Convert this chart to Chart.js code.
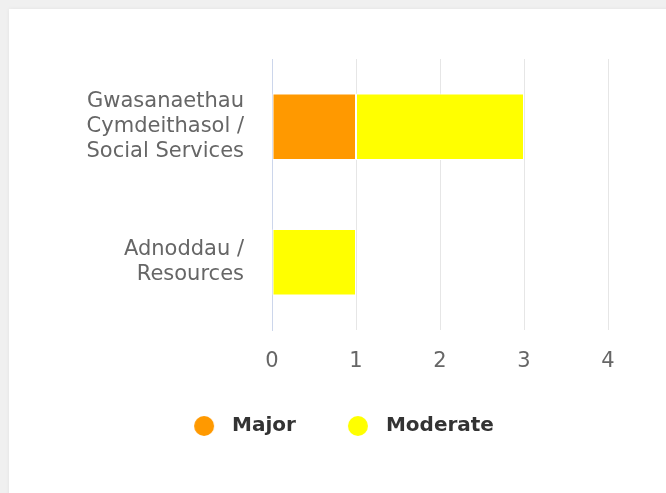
<!DOCTYPE html>
<html>
<head>
<meta charset="utf-8">
<script src="https://cdn.jsdelivr.net/npm/chart.js@4/dist/chart.umd.min.js"></script>
<style>
    html, body { margin: 0; padding: 0; }
    body { width: 666px; height: 493px; background: #f0f0f0; position: relative; overflow: hidden; }
    .card { position: absolute; left: 9px; top: 9px; right: -20px; bottom: -20px; background: #ffffff; box-shadow: 0 0 4px rgba(0,0,0,0.06); }
    #chart { position: absolute; left: 0; top: 0; }
</style>
</head>
<body>
<div class="card"></div>
<canvas id="chart" width="666" height="493"></canvas>
<script>
// Datos del gráfico
const categories = [
    ['Gwasanaethau', 'Cymdeithasol /', 'Social Services'],
    ['Adnoddau /', 'Resources']
];
const seriesNames = ['Major', 'Moderate'];
const seriesColors = ['#ff9900', '#ffff00'];
const majorValues = [1, 0];
const moderateValues = [2, 1];
const xTicks = [0, 1, 2, 3, 4];

// Marcador circular de la leyenda (círculo a la derecha de la caja)
function legendDot(color) {
    const c = document.createElement('canvas');
    c.width = 70;
    c.height = 20;
    const g = c.getContext('2d');
    g.fillStyle = color;
    g.beginPath();
    g.arc(52, 10, 10, 0, Math.PI * 2);
    g.fill();
    return c;
}

const labelFont = { family: 'DejaVu Sans', size: 21, lineHeight: 1.19 };

new Chart(document.getElementById('chart').getContext('2d'), {
    type: 'bar',
    data: {
        labels: categories,
        datasets: [
            {
                label: seriesNames[0],
                data: majorValues,
                backgroundColor: seriesColors[0],
                borderColor: '#ffffff',
                borderWidth: 1,
                borderSkipped: false,
                pointStyle: legendDot(seriesColors[0])
            },
            {
                label: seriesNames[1],
                data: moderateValues,
                backgroundColor: seriesColors[1],
                borderColor: '#ffffff',
                borderWidth: 1,
                borderSkipped: false,
                pointStyle: legendDot(seriesColors[1])
            }
        ]
    },
    options: {
        indexAxis: 'y',
        responsive: false,
        animation: false,
        layout: { padding: { top: 59, right: 58, left: 38, bottom: 47 } },
        datasets: { bar: { categoryPercentage: 1, barPercentage: 0.49 } },
        plugins: {
            tooltip: { enabled: false },
            legend: {
                position: 'bottom',
                labels: {
                    usePointStyle: true,
                    pointStyleWidth: 70,
                    boxHeight: 20,
                    padding: 10,
                    color: '#333333',
                    font: { family: 'DejaVu Sans', size: 20, weight: 'bold' }
                }
            }
        },
        scales: {
            x: {
                stacked: true,
                min: xTicks[0],
                max: xTicks[xTicks.length - 1],
                afterFit: (scale) => { scale.height = 76; },
                afterBuildTicks: (scale) => { scale.ticks = xTicks.map(v => ({ value: v })); },
                border: { display: false },
                grid: {
                    drawTicks: false,
                    color: (ctx) => ctx.tick && ctx.tick.value === 0 ? '#ccd6eb' : '#e6e6e6'
                },
                ticks: { padding: 19, color: '#666666', font: labelFont }
            },
            y: {
                stacked: true,
                afterFit: (scale) => { scale.width = 234; },
                border: { display: true, color: '#ccd6eb' },
                grid: { display: false, drawTicks: false },
                ticks: { padding: 28, color: '#666666', font: labelFont }
            }
        }
    }
});
</script>
</body>
</html>
